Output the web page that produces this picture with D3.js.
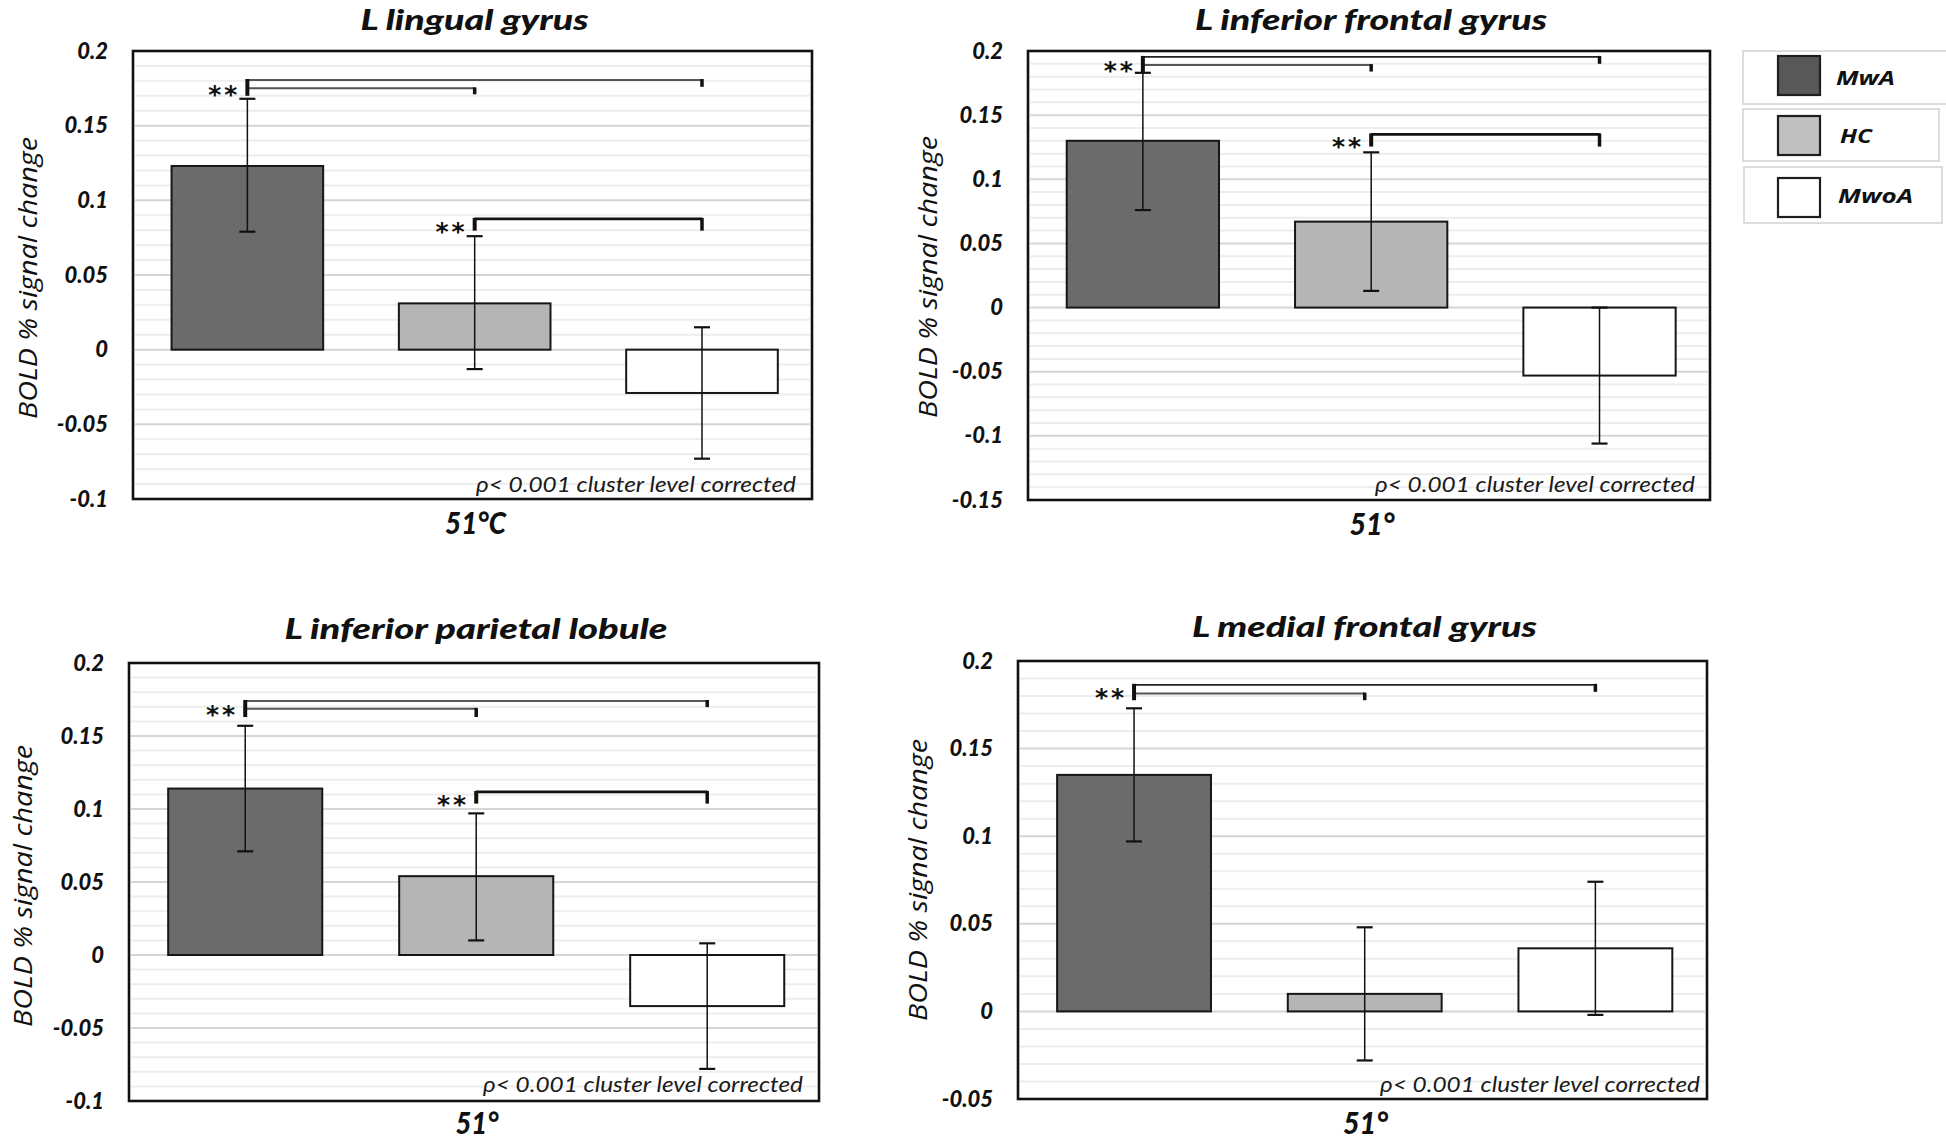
<!DOCTYPE html>
<html><head><meta charset="utf-8">
<script src="https://cdn.jsdelivr.net/npm/d3@7"></script>
<style>body{margin:0;background:#fff;} svg{display:block}</style>
</head><body>
<svg id="c" width="1946" height="1140"></svg>
<script>
// ---------------- DATA ----------------
const groups = ["MwA", "HC", "MwoA"];
const titles = ["L lingual gyrus", "L inferior frontal gyrus", "L inferior parietal lobule", "L medial frontal gyrus"];
const xLabels = ["51°C", "51°", "51°", "51°"];
const yTitle = "BOLD % signal change";
const noteText = "ρ< 0.001 cluster level corrected";
const yMins = [-0.1, -0.15, -0.1, -0.05];
const yMaxs = [0.2, 0.2, 0.2, 0.2];
const yTickStep = 0.05;
const yMinorStep = 0.01;

const means = [
  [0.123, 0.031, -0.029],
  [0.130, 0.067, -0.053],
  [0.114, 0.054, -0.035],
  [0.135, 0.010, 0.036]
];
const errLow = [
  [0.079, -0.013, -0.073],
  [0.076, 0.013, -0.106],
  [0.071, 0.010, -0.078],
  [0.097, -0.028, -0.002]
];
const errHigh = [
  [0.168, 0.076, 0.015],
  [0.183, 0.121, 0.000],
  [0.157, 0.097, 0.008],
  [0.173, 0.048, 0.074]
];
// significance brackets: anchor group, lines to other groups (level, end of right tick), left tick end, star level
const brackets = [
  [
    {anchor: "MwA", lines: [{to: "MwoA", y: 0.1806, end: 0.176}, {to: "HC", y: 0.175, end: 0.171}], leftEnd: 0.170, star: 0.1745},
    {anchor: "HC", lines: [{to: "MwoA", y: 0.0876, end: 0.0797}], leftEnd: 0.0797, star: 0.0830}
  ],
  [
    {anchor: "MwA", lines: [{to: "MwoA", y: 0.1954, end: 0.190}, {to: "HC", y: 0.189, end: 0.184}], leftEnd: 0.183, star: 0.1887},
    {anchor: "HC", lines: [{to: "MwoA", y: 0.135, end: 0.1255}], leftEnd: 0.1255, star: 0.1296}
  ],
  [
    {anchor: "MwA", lines: [{to: "MwoA", y: 0.174, end: 0.1698}, {to: "HC", y: 0.1686, end: 0.163}], leftEnd: 0.163, star: 0.1687},
    {anchor: "HC", lines: [{to: "MwoA", y: 0.1117, end: 0.1037}], leftEnd: 0.1037, star: 0.1069}
  ],
  [
    {anchor: "MwA", lines: [{to: "MwoA", y: 0.1864, end: 0.1824}, {to: "HC", y: 0.1814, end: 0.1776}], leftEnd: 0.1776, star: 0.1823}
  ]
];

// ---------------- LAYOUT / STYLE ----------------
const layout = [
  {l: 133, r: 812, t: 51, b: 499, titleY: 30, titleW: 228, xlabY: 534, xlabW: 61, noteX: 796, noteY: 492, ytX: 37, ytY: 278},
  {l: 1028, r: 1710, t: 51, b: 500, titleY: 30, titleW: 352, xlabY: 535, xlabW: 45, noteX: 1695, noteY: 492, ytX: 937, ytY: 277},
  {l: 129, r: 819, t: 663, b: 1101, titleY: 639, titleW: 383, xlabY: 1134, xlabW: 43, noteX: 803, noteY: 1092, ytX: 32, ytY: 886},
  {l: 1018, r: 1707, t: 661, b: 1099, titleY: 637, titleW: 345, xlabY: 1134, xlabW: 45, noteX: 1700, noteY: 1092, ytX: 927, ytY: 880}
];
const barFill = {MwA: "#6b6b6b", HC: "#b5b5b5", MwoA: "#ffffff"};
const legendFill = {MwA: "#585858", HC: "#c0c0c0", MwoA: "#ffffff"};
const boldIt = "Lato, 'Open Sans', sans-serif";

const svg = d3.select("#c");
svg.append("rect").attr("width", 1946).attr("height", 1140).attr("fill", "#fff");

const fmt = v => String(+v.toFixed(2));

layout.forEach((L, i) => {
  const g = svg.append("g");
  const y = d3.scaleLinear().domain([yMins[i], yMaxs[i]]).range([L.b, L.t]);
  const x = d3.scaleBand().domain(groups).range([L.l, L.r])
    .paddingInner(0.333).paddingOuter(0.16).align(0.53);
  const cx = k => x(k) + x.bandwidth() / 2;

  // gridlines
  const lo = Math.round(yMins[i] / yMinorStep), hi = Math.round(yMaxs[i] / yMinorStep);
  const minor = d3.range(lo + 1, hi).map(v => v * yMinorStep);
  const isMajor = v => Math.abs(Math.round(v / yTickStep) * yTickStep - v) < 1e-9;
  g.append("g").selectAll("line").data(minor).join("line")
    .attr("x1", L.l + 2).attr("x2", L.r - 2)
    .attr("y1", d => y(d)).attr("y2", d => y(d))
    .attr("stroke", d => isMajor(d) ? "#d6d6d6" : "#ededed")
    .attr("stroke-width", 2);

  // bars
  const rows = groups.map((k, j) => ({k, v: means[i][j], lo: errLow[i][j], hi: errHigh[i][j]}));
  g.append("g").selectAll("rect").data(rows).join("rect")
    .attr("x", d => x(d.k)).attr("width", x.bandwidth())
    .attr("y", d => y(Math.max(0, d.v)))
    .attr("height", d => Math.abs(y(d.v) - y(0)))
    .attr("fill", d => barFill[d.k]).attr("stroke", "#161616").attr("stroke-width", 2);

  // error bars
  const eb = g.append("g").attr("stroke", "#111");
  eb.selectAll("line.v").data(rows).join("line").attr("class", "v")
    .attr("x1", d => cx(d.k)).attr("x2", d => cx(d.k))
    .attr("y1", d => y(d.lo)).attr("y2", d => y(d.hi)).attr("stroke-width", 1.5);
  ["lo", "hi"].forEach(s => {
    eb.selectAll("line." + s).data(rows).join("line").attr("class", s)
      .attr("x1", d => cx(d.k) - 8).attr("x2", d => cx(d.k) + 8)
      .attr("y1", d => y(d[s])).attr("y2", d => y(d[s])).attr("stroke-width", 2.2);
  });

  // significance brackets
  brackets[i].forEach(br => {
    const x0 = cx(br.anchor);
    const multi = br.lines.length > 1;
    br.lines.forEach((ln, li) => {
      g.append("line").attr("x1", x0).attr("x2", cx(ln.to))
        .attr("y1", y(ln.y)).attr("y2", y(ln.y))
        .attr("stroke", multi ? (li === 0 ? "#222" : "#555") : "#111")
        .attr("stroke-width", multi ? (li === 0 ? 1.6 : 2) : 2.8);
      g.append("line").attr("x1", cx(ln.to)).attr("x2", cx(ln.to))
        .attr("y1", y(ln.y) - 1).attr("y2", y(ln.end))
        .attr("stroke", "#111").attr("stroke-width", 3.5);
    });
    const top = d3.max(br.lines, d => d.y);
    g.append("line").attr("x1", x0).attr("x2", x0)
      .attr("y1", y(top) - 1).attr("y2", y(br.leftEnd))
      .attr("stroke", "#111").attr("stroke-width", 4);
    g.append("text").attr("x", x0 - 7).attr("y", y(br.star) + 14)
      .attr("text-anchor", "end").attr("font-family", "'DejaVu Sans', sans-serif")
      .attr("font-weight", "bold")
      .attr("font-size", 25).attr("letter-spacing", 3).attr("fill", "#111").text("**");
  });

  // plot border
  g.append("rect").attr("x", L.l).attr("y", L.t).attr("width", L.r - L.l).attr("height", L.b - L.t)
    .attr("fill", "none").attr("stroke", "#111").attr("stroke-width", 2.6);

  // y axis
  const ticks = d3.range(Math.round(yMins[i] / yTickStep), Math.round(yMaxs[i] / yTickStep) + 1).map(v => v * yTickStep);
  const ax = g.append("g").attr("transform", `translate(${L.l},0)`)
    .call(d3.axisLeft(y).tickValues(ticks).tickSize(0).tickPadding(25).tickFormat(fmt));
  ax.select(".domain").remove();
  ax.selectAll("text").attr("font-family", boldIt).attr("font-weight", "900")
    .attr("font-style", "italic").attr("font-size", 22).attr("fill", "#111");

  // title
  g.append("text").attr("x", (L.l + L.r) / 2 + 2).attr("y", L.titleY)
    .attr("text-anchor", "middle").attr("font-family", boldIt).attr("font-weight", "900")
    .attr("font-style", "italic").attr("font-size", 28).attr("fill", "#111")
    .attr("textLength", L.titleW).attr("lengthAdjust", "spacingAndGlyphs").text(titles[i]);

  // x label
  g.append("text").attr("x", (L.l + L.r) / 2 + 3).attr("y", L.xlabY)
    .attr("text-anchor", "middle").attr("font-family", boldIt).attr("font-weight", "900")
    .attr("font-style", "italic").attr("font-size", 31).attr("fill", "#111")
    .attr("textLength", L.xlabW).attr("lengthAdjust", "spacingAndGlyphs").text(xLabels[i]);

  // note
  g.append("text").attr("x", L.noteX).attr("y", L.noteY)
    .attr("text-anchor", "end").attr("font-family", "Lato, sans-serif")
    .attr("font-style", "italic").attr("font-size", 21).attr("fill", "#1a1a1a")
    .attr("textLength", 320).attr("lengthAdjust", "spacingAndGlyphs").text(noteText);

  // y title
  g.append("text").attr("transform", `translate(${L.ytX},${L.ytY}) rotate(-90)`)
    .attr("text-anchor", "middle").attr("font-family", "'Open Sans', sans-serif")
    .attr("font-style", "italic").attr("font-size", 26).attr("fill", "#111")
    .attr("textLength", 282).attr("lengthAdjust", "spacingAndGlyphs").text(yTitle);
});

// legend
const legBoxes = [
  {x: 1743, y: 51, w: 210, h: 53, sy: 56, tx: 1836, ty: 85, tw: 59},
  {x: 1743, y: 109, w: 196, h: 52, sy: 116, tx: 1840, ty: 143, tw: 32},
  {x: 1744, y: 167, w: 198, h: 56, sy: 178, tx: 1838, ty: 203, tw: 75}
];
const lg = svg.append("g");
groups.forEach((k, j) => {
  const b = legBoxes[j];
  lg.append("rect").attr("x", b.x).attr("y", b.y).attr("width", b.w).attr("height", b.h)
    .attr("fill", "#fff").attr("stroke", "#d2d2d2").attr("stroke-width", 1.5);
  lg.append("rect").attr("x", 1778).attr("y", b.sy).attr("width", 42).attr("height", 39)
    .attr("fill", legendFill[k]).attr("stroke", "#1e1e1e").attr("stroke-width", 2.2);
  lg.append("text").attr("x", b.tx).attr("y", b.ty)
    .attr("font-family", "'Open Sans', sans-serif").attr("font-weight", "bold")
    .attr("font-style", "italic").attr("font-size", 20).attr("fill", "#111")
    .attr("textLength", b.tw).attr("lengthAdjust", "spacingAndGlyphs").text(k);
});
</script>
</body></html>
